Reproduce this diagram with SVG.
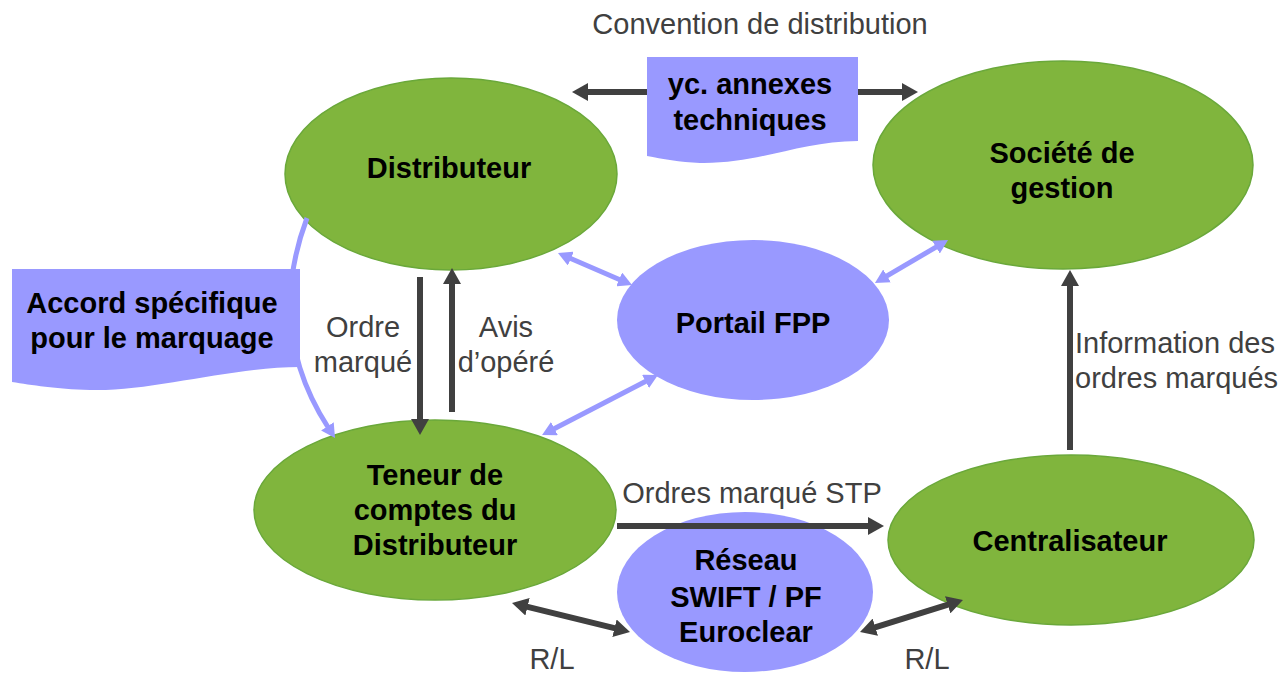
<svg xmlns="http://www.w3.org/2000/svg" width="1282" height="673" viewBox="0 0 1282 673">
<style>
.g{fill:#80b53d;stroke:#6aa83a;stroke-width:1.5}
.b{fill:#9999ff}
.doc{fill:#9999ff}
.t{font-family:"Liberation Sans",Arial,sans-serif;font-size:29px;font-weight:bold;fill:#000;text-anchor:middle}
.l{font-family:"Liberation Sans",Arial,sans-serif;font-size:29px;fill:#404040;text-anchor:middle}
.dk{stroke:#404040;stroke-width:6;fill:none}
.lb{stroke:#9999ff;stroke-width:5;fill:none}
</style>
<defs>
<marker id="ad" viewBox="0 0 16 18" refX="2" refY="9" markerWidth="16" markerHeight="18" markerUnits="userSpaceOnUse" orient="auto-start-reverse"><path d="M0,0 L16,9 L0,18 z" fill="#404040"/></marker>
<marker id="ab" viewBox="0 0 14 15" refX="2" refY="7.5" markerWidth="14" markerHeight="15" markerUnits="userSpaceOnUse" orient="auto-start-reverse"><path d="M0,0 L14,7.5 L0,15 z" fill="#9999ff"/></marker>
</defs>
<rect width="1282" height="673" fill="#fff"/>
<g id="distributeur"><ellipse class="g" cx="451" cy="174" rx="166" ry="96"/><text class="t" x="449" y="178">Distributeur</text></g>
<g id="societe"><ellipse class="g" cx="1063" cy="165" rx="190" ry="104"/><text class="t" x="1062" y="163">Société de</text><text class="t" x="1062" y="198">gestion</text></g>
<g id="portail"><ellipse class="b" cx="753" cy="320" rx="136" ry="80"/><text class="t" x="753" y="333">Portail FPP</text></g>
<g id="teneur"><ellipse class="g" cx="435" cy="510" rx="181" ry="90"/><text class="t" x="435" y="485">Teneur de</text><text class="t" x="435" y="520">comptes du</text><text class="t" x="435" y="555">Distributeur</text></g>
<g id="centralisateur"><ellipse class="g" cx="1071" cy="540" rx="183" ry="85"/><text class="t" x="1070" y="551">Centralisateur</text></g>
<g id="reseau"><ellipse class="b" cx="745" cy="592" rx="128" ry="80"/><text class="t" x="746" y="570">Réseau</text><text class="t" x="746" y="607">SWIFT / PF</text><text class="t" x="746" y="642">Euroclear</text></g>
<g id="connectors">
<line class="dk" x1="586" y1="92" x2="904" y2="92" marker-start="url(#ad)" marker-end="url(#ad)"/>
<line class="dk" x1="420" y1="277" x2="420" y2="421" marker-end="url(#ad)"/>
<line class="dk" x1="452" y1="412" x2="452" y2="282" marker-end="url(#ad)"/>
<line class="dk" x1="617" y1="526" x2="870" y2="526" marker-end="url(#ad)"/>
<line class="dk" x1="1070" y1="450" x2="1070" y2="284" marker-end="url(#ad)"/>
<line class="dk" x1="525.6" y1="606.3" x2="616.4" y2="628.7" marker-start="url(#ad)" marker-end="url(#ad)"/>
<line class="dk" x1="873.4" y1="627.8" x2="949.6" y2="604.2" marker-start="url(#ad)" marker-end="url(#ad)"/>
<line class="lb" x1="569" y1="257.8" x2="621" y2="280.2" marker-start="url(#ab)" marker-end="url(#ab)"/>
<line class="lb" x1="885.3" y1="276.9" x2="937.7" y2="246.1" marker-start="url(#ab)" marker-end="url(#ab)"/>
<line class="lb" x1="647.3" y1="380.5" x2="552.7" y2="429.5" marker-start="url(#ab)" marker-end="url(#ab)"/>
<path class="lb" d="M307,218 Q265,330 328.5,428" marker-end="url(#ab)"/>
<text class="l" x="760" y="34">Convention de distribution</text>
<text class="l" x="363" y="337">Ordre</text><text class="l" x="363" y="372">marqué</text>
<text class="l" x="506" y="337">Avis</text><text class="l" x="506" y="372">d’opéré</text>
<text class="l" x="1075" y="353" style="text-anchor:start">Information des</text>
<text class="l" x="1075" y="388" style="text-anchor:start">ordres marqués</text>
<text class="l" x="752" y="503">Ordres marqué STP</text>
<text class="l" x="552" y="669">R/L</text>
<text class="l" x="927" y="669">R/L</text>
</g>
<g id="annexes"><path class="doc" d="M647,57 H858 V141 C800,141 760,164 700,163 C680,162 662,159 647,156 Z"/><text class="t" x="750" y="94">yc. annexes</text><text class="t" x="750" y="130">techniques</text></g>
<g id="accord"><path class="doc" d="M12,269 H300 V367 C230,367 150,392 90,390 C55,389 32,385 12,382 Z"/><text class="t" x="152" y="313">Accord spécifique</text><text class="t" x="152" y="348">pour le marquage</text></g>
</svg>
